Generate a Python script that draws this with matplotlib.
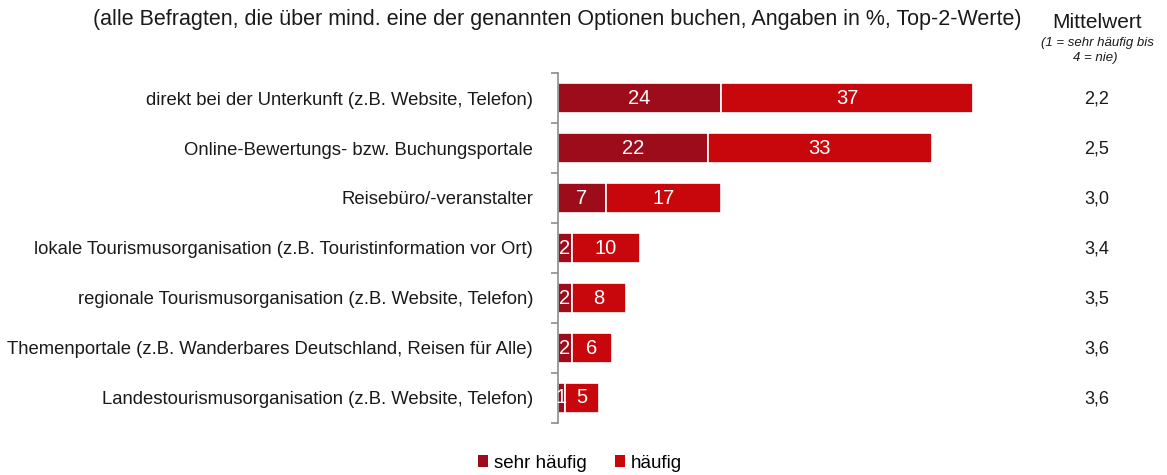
import matplotlib
matplotlib.use("Agg")
import matplotlib.pyplot as plt
import numpy as np

plt.rcParams['font.family'] = ['Liberation Sans', 'DejaVu Sans']

categories = [
    "direkt bei der Unterkunft (z.B. Website, Telefon)",
    "Online-Bewertungs- bzw. Buchungsportale",
    "Reisebüro/-veranstalter",
    "lokale Tourismusorganisation (z.B. Touristinformation vor Ort)",
    "regionale Tourismusorganisation (z.B. Website, Telefon)",
    "Themenportale (z.B. Wanderbares Deutschland, Reisen für Alle)",
    "Landestourismusorganisation (z.B. Website, Telefon)",
]
sehr_haeufig = [24, 22, 7, 2, 2, 2, 1]
haeufig = [37, 33, 17, 10, 8, 6, 5]
mittelwert = ["2,2", "2,5", "3,0", "3,4", "3,5", "3,6", "3,6"]
series_names = ["sehr häufig", "häufig"]
title = "(alle Befragten, die über mind. eine der genannten Optionen buchen, Angaben in %, Top-2-Werte)"

c_dark = "#9D0C1B"
c_red = "#C8070D"
txt = "#1a1a1a"

W, H = 1167, 475
fig = plt.figure(figsize=(W / 100, H / 100), dpi=100)
ax = fig.add_axes([558 / W, (H - 423) / H, 442 / W, 350 / H])

y = np.arange(len(categories))
ax.barh(y, sehr_haeufig, height=0.6, color=c_dark, edgecolor="white", linewidth=1.2, label=series_names[0])
ax.barh(y, haeufig, left=sehr_haeufig, height=0.6, color=c_red, edgecolor="white", linewidth=1.2, label=series_names[1])

for i in range(len(categories)):
    ax.text(sehr_haeufig[i] / 2, y[i], str(sehr_haeufig[i]), ha="center", va="center",
            color="white", fontsize=14.5)
    ax.text(sehr_haeufig[i] + haeufig[i] / 2, y[i], str(haeufig[i]), ha="center", va="center",
            color="white", fontsize=14.5)

ax.set_xlim(0, 65)
ax.set_ylim(len(categories) - 0.5, -0.5)
for s in ["top", "right", "bottom"]:
    ax.spines[s].set_visible(False)
ax.spines["left"].set_color("#8C8C8C")
ax.spines["left"].set_linewidth(1.2)
ax.set_xticks([])
ax.set_yticks(np.arange(-0.5, len(categories)), minor=False)
ax.set_yticklabels([])
ax.tick_params(axis="y", length=5, color="#8C8C8C", width=1.2)
ax.set_yticks(y, minor=True)
ax.set_yticklabels(categories, minor=True, fontsize=13.3, color=txt)
ax.tick_params(axis="y", which="minor", length=0, pad=18)

# Mittelwert column
for i in range(len(categories)):
    yy = ax.transData.transform((0, y[i]))[1]
    fig.text(1097 / W, (yy - 1) / H, mittelwert[i], ha="center", va="center", fontsize=13, color=txt)

fig.text(1097 / W, 1 - 22 / H, "Mittelwert", ha="center", va="center", fontsize=15, color=txt)
fig.text(1097 / W, 1 - 43 / H, "(1 = sehr häufig bis", ha="center", va="center", fontsize=9.5,
         style="italic", color=txt)
fig.text(1095 / W, 1 - 58 / H, "4 = nie)", ha="center", va="center", fontsize=9.5,
         style="italic", color=txt)

fig.text(557 / W, 1 - 20 / H, title, ha="center", va="center", fontsize=15.5, color=txt)

leg = fig.legend(loc="center", bbox_to_anchor=(580 / W, 1 - 463 / H), ncol=2, frameon=False,
                 fontsize=13.5, handlelength=0.55, handleheight=0.55, handletextpad=0.3, columnspacing=1.5)
for h in leg.legend_handles:
    h.set_edgecolor("none")

fig.savefig("out.png", dpi=100)
